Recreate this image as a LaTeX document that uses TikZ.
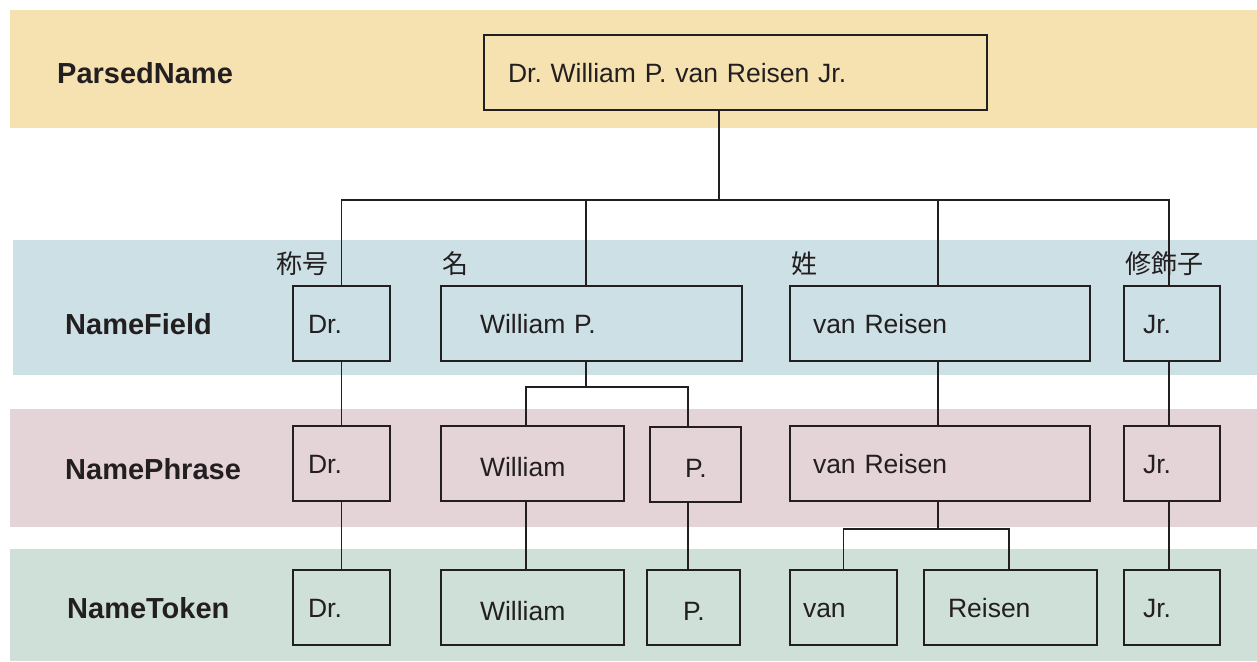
\documentclass[tikz,border=0pt]{standalone}
\usepackage{fontspec}
\setmainfont{Liberation Sans}
\newfontfamily\cjkfont{Noto Sans CJK JP}
\frenchspacing
\definecolor{ink}{RGB}{35,31,32}
\definecolor{parsedbg}{RGB}{246,226,176}
\definecolor{fieldbg}{RGB}{205,224,230}
\definecolor{phrasebg}{RGB}{228,211,215}
\definecolor{tokenbg}{RGB}{206,224,216}
\tikzset{
	box/.style={draw=ink, line width=1.5pt, outer sep=0pt, anchor=north west, minimum height=75pt,
		text height=19pt, text depth=0pt, align=left, text=ink, font=\fontsize{26.5}{30}\selectfont},
	low/.style={text height=25pt},
	level/.style={anchor=west, inner sep=0pt, text=ink, font=\fontsize{29}{34}\selectfont\bfseries},
	role/.style={anchor=west, inner sep=0pt, text=ink, font=\cjkfont\fontsize{26}{30}\selectfont},
	link/.style={draw=ink, line width=1.3pt},
}
\begin{document}
\begin{tikzpicture}[x=1pt, y=-1pt]
	\useasboundingbox (0,0) rectangle (1257,661);
	% Background bands
	\fill[parsedbg] (10,10) rectangle (1257,128);
	\fill[fieldbg] (13,240) rectangle (1257,375);
	\fill[phrasebg] (10,409) rectangle (1257,527);
	\fill[tokenbg] (10,549) rectangle (1257,661);

	\node[level] (lParsed) at (57,73) {ParsedName};
	\node[level] (lField) at (65,324) {NameField};
	\node[level] (lPhrase) at (65,469) {NamePhrase};
	\node[level] (lToken) at (67,608) {NameToken};

	% Define the boxes with specific positions
	\node[box, text width=455pt, inner xsep=24pt] (pn) at (484,35) {Dr. William P. van Reisen Jr.};

	\node[box, text width=67pt, inner xsep=15pt] (fDr) at (293,286) {Dr.};
	\node[box, text width=223pt, inner xsep=39pt] (fWil) at (441,286) {William P.};
	\node[box, text width=254pt, inner xsep=23pt] (fVan) at (790,286) {van Reisen};
	\node[box, text width=58pt, inner xsep=19pt] (fJr) at (1124,286) {Jr.};

	\node[role] (rTitle) at (276,264) {称号};
	\node[role] (rGiven) at (442,264) {名};
	\node[role] (rSur) at (791,264) {姓};
	\node[role] (rMod) at (1125,264) {修飾子};

	\node[box, text width=67pt, inner xsep=15pt] (pDr) at (293,426) {Dr.};
	\node[box, low, text width=105pt, inner xsep=39pt] (pWil) at (441,426) {William};
	\node[box, low, text width=21pt, inner xsep=35pt] (pP) at (650,427) {P.};
	\node[box, text width=254pt, inner xsep=23pt] (pVan) at (790,426) {van Reisen};
	\node[box, text width=58pt, inner xsep=19pt] (pJr) at (1124,426) {Jr.};

	\node[box, text width=67pt, inner xsep=15pt] (tDr) at (293,570) {Dr.};
	\node[box, low, text width=105pt, inner xsep=39pt] (tWil) at (441,570) {William};
	\node[box, low, text width=21pt, inner xsep=36pt] (tP) at (647,570) {P.};
	\node[box, text width=81pt, inner xsep=13pt] (tVan) at (790,570) {van};
	\node[box, text width=125pt, inner xsep=24pt] (tRei) at (924,570) {Reisen};
	\node[box, text width=58pt, inner xsep=19pt] (tJr) at (1124,570) {Jr.};

	% Draw the connectors between boxes
	\coordinate (hub) at (719,200);
	\coordinate (wsplit) at (586,387);
	\coordinate (vsplit) at (938,529);
	\draw[link] (pn.south -| hub) -- (hub);
	\draw[link] (fDr.north) |- (hub) -| ([xshift=-3pt]fJr.north);
	\draw[link] ([xshift=-5.5pt]fWil.north) -- ([xshift=-5.5pt]fWil.north |- hub);
	\draw[link] ([xshift=-2pt]fVan.north) -- ([xshift=-2pt]fVan.north |- hub);

	\draw[link] (fDr) -- (pDr);
	\draw[link] ([xshift=-5.5pt]fWil.south) -- (wsplit);
	\draw[link] ([xshift=-6.5pt]pWil.north) |- (wsplit) -| ([xshift=-7.5pt]pP.north);
	\draw[link] ([xshift=-2pt]fVan.south) -- ([xshift=-2pt]pVan.north);
	\draw[link] ([xshift=-3pt]fJr.south) -- ([xshift=-3pt]pJr.north);

	\draw[link] (pDr) -- (tDr);
	\draw[link] ([xshift=-6.5pt]pWil.south) -- ([xshift=-6.5pt]tWil.north);
	\draw[link] ([xshift=-7.5pt]pP.south) -- ([xshift=-7.5pt]pP.south |- tP.north);
	\draw[link] ([xshift=-2pt]pVan.south) -- (vsplit);
	\draw[link] (tVan.north) |- (vsplit) -| ([xshift=-1.5pt]tRei.north);
	\draw[link] ([xshift=-3pt]pJr.south) -- ([xshift=-3pt]tJr.north);
\end{tikzpicture}
\end{document}
